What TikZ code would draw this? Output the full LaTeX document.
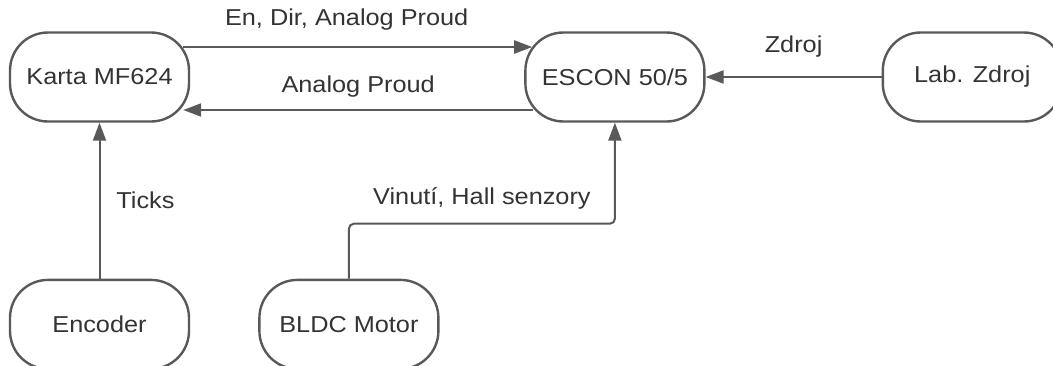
\documentclass[tikz,border=0pt]{standalone}
\usepackage{fontspec}
\setmainfont[FakeStretch=1.1]{Liberation Sans}
\usetikzlibrary{positioning,arrows.meta}
\definecolor{linka}{HTML}{595959}
\definecolor{text}{HTML}{333333}
\begin{document}
\begin{tikzpicture}[font=\fontsize{23pt}{27pt}\selectfont, text=text]
    \tikzstyle{blok} = [rectangle, rounded corners=38pt, draw=linka, line width=2.4pt,
        minimum width=179pt, minimum height=89pt, inner sep=0pt]
    \tikzstyle{spoj} = [draw=linka, line width=2pt, -{Triangle[length=18pt,width=13pt]}]
    \useasboundingbox (0,0) rectangle (1053pt,-365pt);
        % upper row
        \node[blok] (karta) at (99.5pt,-77pt) {Karta MF624};
        \node[blok,right=334pt of karta] (escon) {ESCON 50/5};
        \node[blok,right=176pt of escon] (zdroj) {Lab. Zdroj};
        % lower row
        \node[blok,below=156pt of karta] (enc) {Encoder};
        \node[blok,right=68pt of enc] (motor) {BLDC Motor};
        % connections
        \draw[spoj] ([xshift=-7pt,yshift=30pt]karta.east) -- ([xshift=8pt,yshift=30pt]escon.west)
            node[midway,xshift=-11pt,yshift=27pt] (l1) {En, Dir, Analog Proud};
        \draw[spoj] ([xshift=9pt,yshift=-33pt]escon.west) -- ([xshift=-7pt,yshift=-33pt]karta.east)
            node[midway,yshift=23pt] (l2) {Analog Proud};
        \draw[spoj] (zdroj.west) -- (escon.east)
            node[midway,yshift=30pt] (l3) {Zdroj};
        \draw[spoj] (enc.north) -- (karta.south)
            node[midway,xshift=46pt] (l4) {Ticks};
        \draw[spoj,rounded corners=5pt] (motor.north) -- ++(0,55pt) -| (escon.south)
            node[pos=0.25,yshift=25pt] (l5) {Vinutí, Hall senzory};
\end{tikzpicture}
\end{document}
